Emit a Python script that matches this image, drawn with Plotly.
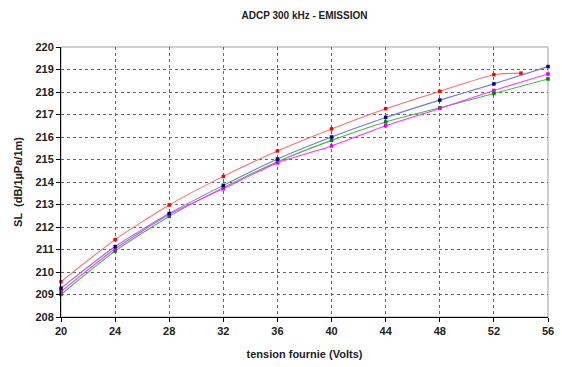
import plotly.graph_objects as go

volts = [20, 24, 28, 32, 36, 40, 44, 48, 52, 56]
volts_red = [20, 24, 28, 32, 36, 40, 44, 48, 52, 54]

sl_red = [209.57, 211.44, 212.98, 214.25, 215.38, 216.36, 217.26, 218.03, 218.77, 218.84]
sl_blue = [209.28, 211.13, 212.60, 213.85, 215.02, 216.00, 216.87, 217.64, 218.36, 219.13]
sl_green = [209.00, 210.93, 212.47, 213.75, 214.90, 215.85, 216.67, 217.30, 217.93, 218.58]
sl_magenta = [209.13, 211.03, 212.55, 213.70, 214.85, 215.60, 216.50, 217.27, 218.07, 218.80]

y_ticks = list(range(208, 221))
x_ticks = list(range(20, 57, 4))

series = [
    (volts, sl_green, "#44BB44", "#008000"),
    (volts, sl_magenta, "#FF33FF", "#E000E0"),
    (volts, sl_blue, "#7777DD", "#000080"),
    (volts_red, sl_red, "#FF7070", "#FF0000"),
]

fig = go.Figure()
for xs, ys, lc, mc in series:
    fig.add_trace(go.Scatter(
        x=xs, y=ys, mode="lines+markers", cliponaxis=False,
        line=dict(color=lc, width=1.1, shape="spline", smoothing=0.6),
        marker=dict(symbol="square", size=3.5, color=mc),
        showlegend=False, hoverinfo="skip"))

font_main = "Liberation Sans, Arial, sans-serif"
tick_font = dict(family=font_main, size=11, color="#222222", weight="bold")
grid = dict(showgrid=True, gridcolor="#666666", griddash="dot", gridwidth=1,
            showline=True, linecolor="#000000", linewidth=1,
            ticks="outside", ticklen=4, tickcolor="#000000", zeroline=False,
            ticklabeloverflow="allow", tickfont=tick_font)

fig.update_layout(
    width=562, height=367,
    margin=dict(l=61, r=8, t=47, b=48),
    paper_bgcolor="white", plot_bgcolor="white",
    font=dict(family=font_main),
    title=dict(text="<b>ADCP 300 kHz - EMISSION</b>", x=0.5, xref="paper",
               y=1 - 15/367, yanchor="middle",
               font=dict(family=font_main, size=10, color="#222222")),
    xaxis=dict(range=[20, 56], tickvals=x_ticks,
               title=dict(text="<b>tension fournie (Volts)</b>", standoff=14,
                          font=dict(family=font_main, size=11, color="#222222")),
               **grid),
    yaxis=dict(range=[208, 220], tickvals=y_ticks,
               title=dict(text="<b>SL  (dB/1µPa/1m)</b>", standoff=10,
                          font=dict(family=font_main, size=11, color="#222222")),
               **grid),
    shapes=[dict(type="rect", xref="paper", yref="paper", x0=0, y0=0, x1=1, y1=1,
                 line=dict(color="#A0A0A0", width=1), layer="below")],
)
fig.write_html("out.html", config={"displayModeBar": False},
               post_script="document.body.style.margin='0';document.body.style.overflow='hidden';")
